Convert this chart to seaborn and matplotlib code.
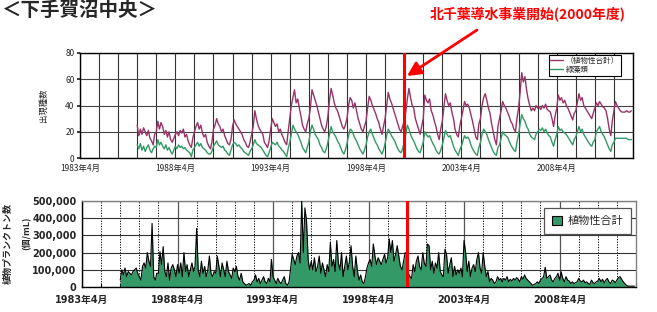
import numpy as np
import pandas as pd
import matplotlib
matplotlib.use('Agg')
import matplotlib.pyplot as plt
import matplotlib.dates as mdates
from matplotlib.patches import Patch
from matplotlib.lines import Line2D
import seaborn as sns

# ---------------- data ----------------
# Top chart: number of species, monthly, 1986/4 .. 2012/3 (Apr..Mar per row)
total_species = [
    25, 17, 22, 18, 23, 20, 17, 21, 15, 13, 10, 18,   # 1986
    20, 28, 22, 27, 24, 18, 21, 16, 20, 14, 12, 15,   # 1987
    18, 20, 17, 21, 19, 22, 16, 18, 13, 10, 8, 15,    # 1988
    20, 24, 27, 22, 25, 19, 16, 18, 12, 9, 7, 12,     # 1989
    22, 25, 30, 26, 24, 20, 22, 17, 14, 11, 10, 14,   # 1990
    24, 29, 26, 24, 22, 20, 18, 14, 12, 9, 8, 12,     # 1991
    18, 24, 36, 30, 25, 22, 20, 18, 12, 10, 8, 13,    # 1992
    22, 30, 27, 24, 26, 20, 22, 18, 15, 12, 10, 20,   # 1993
    30, 40, 46, 52, 42, 45, 38, 32, 25, 22, 20, 26,   # 1994
    30, 38, 52, 48, 44, 40, 35, 30, 25, 22, 20, 24,   # 1995
    32, 44, 53, 48, 42, 38, 36, 32, 28, 24, 22, 25,   # 1996
    30, 40, 46, 44, 38, 42, 36, 30, 26, 22, 20, 24,   # 1997
    28, 38, 47, 44, 40, 37, 34, 30, 27, 22, 18, 24,   # 1998
    30, 40, 50, 45, 42, 38, 34, 30, 26, 22, 20, 24,   # 1999
    28, 35, 45, 53, 46, 40, 38, 30, 26, 22, 18, 24,   # 2000
    30, 48, 44, 42, 45, 36, 33, 28, 24, 18, 14, 22,   # 2001
    28, 38, 49, 44, 40, 42, 35, 30, 22, 18, 16, 24,   # 2002
    30, 36, 43, 40, 41, 38, 33, 28, 22, 16, 14, 26,   # 2003
    30, 40, 46, 49, 44, 38, 34, 26, 20, 14, 10, 24,   # 2004
    30, 36, 43, 40, 38, 35, 32, 28, 26, 22, 20, 30,   # 2005
    38, 50, 65, 58, 62, 52, 45, 40, 36, 38, 36, 40,   # 2006
    38, 39, 37, 40, 38, 41, 37, 36, 35, 30, 24, 32,   # 2007
    38, 48, 44, 46, 42, 44, 40, 38, 35, 32, 29, 34,   # 2008
    36, 42, 49, 44, 46, 40, 38, 36, 34, 32, 30, 34,   # 2009
    38, 42, 40, 43, 41, 39, 38, 36, 30, 22, 17, 28,   # 2010
    36, 43, 40, 38, 36, 35, 35, 35, 36, 35, 35, 36,   # 2011
]
green_species = [
    10, 7, 11, 6, 9, 5, 8, 10, 6, 4, 7, 9,            # 1986
    8, 14, 10, 12, 9, 7, 10, 6, 8, 5, 3, 6,           # 1987
    9, 7, 10, 8, 9, 7, 8, 6, 5, 4, 1, 6,              # 1988
    8, 10, 12, 9, 11, 8, 7, 6, 4, 3, 3, 5,            # 1989
    9, 11, 13, 10, 9, 8, 9, 6, 5, 3, 2, 6,            # 1990
    10, 12, 11, 9, 10, 8, 7, 5, 4, 3, 2, 5,           # 1991
    7, 10, 14, 11, 10, 9, 8, 6, 4, 2, 1, 4,           # 1992
    8, 12, 11, 10, 12, 9, 8, 6, 5, 3, 1, 7,           # 1993
    12, 18, 25, 22, 20, 18, 15, 12, 8, 6, 4, 8,       # 1994
    12, 20, 25, 22, 18, 16, 14, 10, 8, 5, 4, 7,       # 1995
    12, 18, 24, 20, 18, 16, 13, 11, 8, 5, 3, 6,       # 1996
    11, 17, 22, 21, 18, 15, 13, 10, 7, 5, 3, 6,       # 1997
    10, 16, 20, 22, 18, 15, 12, 10, 7, 5, 3, 6,       # 1998
    11, 17, 22, 20, 17, 15, 13, 10, 7, 5, 4, 7,       # 1999
    12, 18, 25, 22, 18, 15, 13, 10, 7, 5, 4, 8,       # 2000
    12, 20, 18, 16, 17, 14, 11, 9, 6, 4, 3, 6,        # 2001
    10, 15, 21, 18, 16, 17, 13, 9, 6, 4, 2, 6,        # 2002
    9, 13, 17, 15, 16, 14, 10, 7, 5, 3, 2, 8,         # 2003
    12, 18, 22, 20, 18, 14, 11, 8, 5, 3, 2, 8,        # 2004
    10, 15, 20, 18, 17, 16, 13, 10, 8, 6, 5, 12,      # 2005
    18, 26, 33, 30, 28, 24, 22, 18, 16, 15, 14, 18,   # 2006
    20, 22, 21, 23, 20, 22, 19, 17, 16, 12, 9, 14,    # 2007
    18, 24, 21, 22, 20, 19, 18, 16, 14, 12, 10, 14,   # 2008
    16, 20, 24, 20, 22, 18, 16, 14, 12, 10, 9, 12,    # 2009
    14, 20, 22, 24, 20, 18, 16, 13, 10, 7, 5, 10,     # 2010
    12, 15, 15, 15, 15, 15, 15, 15, 15, 14, 14, 14,   # 2011
]
# Bottom chart: phytoplankton cells (thousand /mL), monthly, 1985/4 .. 2012/3
plankton_k = [
    40, 100, 70, 110, 60, 90, 80, 70, 90, 100, 110, 80,       # 1985
    60, 40, 120, 140, 110, 200, 150, 120, 370, 60, 40, 80,    # 1986
    80, 205, 130, 235, 90, 60, 140, 40, 110, 130, 100, 60,    # 1987
    130, 80, 140, 60, 200, 90, 130, 60, 100, 140, 90, 120,    # 1988
    340, 100, 60, 150, 80, 120, 60, 100, 180, 80, 60, 90,     # 1989
    80, 180, 120, 60, 140, 100, 60, 150, 90, 70, 50, 110,     # 1990
    90, 120, 60, 40, 80, 30, 20, 10, 15, 20, 10, 30,          # 1991
    40, 70, 30, 50, 20, 40, 60, 30, 20, 50, 30, 160,          # 1992
    60, 40, 20, 50, 30, 20, 40, 60, 20, 10, 30, 100,          # 1993
    190, 160, 130, 180, 200, 140, 500, 200, 460, 385, 160, 100,  # 1994
    150, 100, 170, 90, 120, 180, 80, 140, 100, 60, 130, 90,   # 1995
    260, 120, 160, 90, 270, 140, 100, 200, 60, 120, 180, 100, # 1996
    150, 240, 120, 60, 180, 90, 40, 70, 30, 20, 60, 110,      # 1997
    140, 160, 120, 250, 180, 130, 170, 150, 130, 160, 190, 140,  # 1998
    170, 280, 200, 270, 150, 190, 240, 180, 120, 100, 150, 200,  # 1999
    190, 80, 60, 50, 130, 90, 150, 180, 120, 100, 200, 140,   # 2000
    120, 250, 240, 100, 150, 80, 140, 110, 200, 90, 70, 60,   # 2001
    220, 190, 80, 130, 170, 60, 120, 70, 100, 80, 110, 60,    # 2002
    270, 200, 90, 150, 60, 110, 130, 90, 160, 200, 110, 80,   # 2003
    200, 120, 60, 90, 30, 50, 40, 20, 30, 60, 40, 50,         # 2004
    30, 50, 40, 60, 30, 45, 35, 50, 40, 55, 45, 30,           # 2005
    60, 45, 70, 50, 40, 30, 20, 10, 15, 20, 30, 20,           # 2006
    40, 50, 60, 115, 50, 60, 70, 40, 30, 50, 60, 80,          # 2007
    40, 88, 50, 30, 60, 40, 35, 20, 30, 20, 25, 30,           # 2008
    50, 35, 30, 40, 25, 30, 20, 15, 40, 25, 20, 30,           # 2009
    35, 50, 30, 45, 25, 40, 50, 30, 20, 40, 35, 25,           # 2010
    40, 55, 60, 45, 30, 20, 10, 5, 5, 5, 5, 5,                # 2011
]
tick_years = [1983, 1988, 1993, 1998, 2003, 2008]
tick_labels = [f"{y}年4月" for y in tick_years]
series_names = ["（植物性合計）", "緑藻類"]
bottom_name = "植物性合計"
event_label = "北千葉導水事業開始(2000年度)"
title = "＜下手賀沼中央＞"

# ---------------- figure ----------------
sns.set_theme(style='white')
plt.rcParams['font.family'] = ['Noto Sans CJK JP', 'DejaVu Sans']
plt.rcParams['axes.unicode_minus'] = False

W, H = 657, 312
fig = plt.figure(figsize=(W / 100, H / 100), dpi=100)
fig.patch.set_facecolor('white')

def box(l, t, r, b):
    return [l / W, 1 - b / H, (r - l) / W, (b - t) / H]

ax1 = fig.add_axes(box(80, 53, 633, 158))
ax2 = fig.add_axes(box(82, 201, 636, 287))

purple = '#993366'
green = '#339966'

x0 = pd.Timestamp('1983-04-01')
x1 = pd.Timestamp('2012-04-01')
event = pd.Timestamp('2000-04-01')
major_dates = [pd.Timestamp(f'{y}-04-01') for y in tick_years]
minor_dates = [pd.Timestamp(f'{y}-04-01') for y in range(1983, 2013)]

# ---- top chart ----
top_dates = pd.date_range('1986-04-01', periods=len(total_species), freq='MS')
df_top = pd.DataFrame({
    'date': list(top_dates) * 2,
    'value': total_species + green_species,
    'series': [series_names[0]] * len(total_species) + [series_names[1]] * len(green_species),
})
sns.lineplot(data=df_top, x='date', y='value', hue='series',
             palette={series_names[0]: purple, series_names[1]: green},
             linewidth=1.0, ax=ax1, legend=False, zorder=3)
ax1.axvline(event, color='#ff0000', lw=2.2, zorder=4)
ax1.set_xlim(x0, x1)
ax1.set_ylim(0, 80)
ax1.set_yticks([0, 20, 40, 60, 80])
ax1.set_xticks(major_dates)
ax1.set_xticks(minor_dates, minor=True)
ax1.set_xticklabels(tick_labels, fontsize=6)
ax1.tick_params(axis='x', which='both', length=0, pad=4)
ax1.tick_params(axis='y', labelsize=6, length=2, pad=2, left=True)
ax1.grid(axis='x', which='both', color='#333333', lw=0.8)
ax1.grid(axis='y', which='major', color='#444444', lw=0.8)
ax1.set_axisbelow(True)
for s in ax1.spines.values():
    s.set_color('black'); s.set_linewidth(1.0)
ax1.set_xlabel('')
ax1.set_ylabel('出現種数', fontsize=6)
ax1.yaxis.set_label_coords((48 - 80) / 553, 0.5)
h1 = [Line2D([], [], color=purple, lw=1.0), Line2D([], [], color=green, lw=1.0)]
leg1 = ax1.legend(h1, series_names, loc='upper right',
                  bbox_to_anchor=((621 - 80) / 553, (158 - 55) / 105),
                  fontsize=5.5, frameon=True, fancybox=False, framealpha=1,
                  edgecolor='black', handlelength=1.6, handletextpad=0.4,
                  borderpad=0.25, labelspacing=0.1, borderaxespad=0)
leg1.get_frame().set_linewidth(0.8)
leg1.set_zorder(6)

# ---- bottom chart ----
bot_dates = pd.date_range('1985-04-01', periods=len(plankton_k), freq='MS')
plankton = [v * 1000 for v in plankton_k]
df_bot = pd.DataFrame({'date': bot_dates, 'value': plankton})
ax2.fill_between(df_bot['date'], 0, df_bot['value'], color=green, lw=0, zorder=2)
sns.lineplot(data=df_bot, x='date', y='value', color='black', linewidth=0.8,
             ax=ax2, zorder=3)
ax2.axvline(event, color='#ff0000', lw=2.2, zorder=4)
ax2.set_xlim(x0, x1)
ax2.set_ylim(0, 500000)
ax2.set_yticks([0, 100000, 200000, 300000, 400000, 500000])
ax2.set_yticklabels([f"{v:,}" for v in [0, 100000, 200000, 300000, 400000, 500000]],
                    fontsize=7, fontweight='bold', family=['DejaVu Sans', 'Noto Sans CJK JP'])
ax2.set_xticks(major_dates)
ax2.set_xticks(minor_dates, minor=True)
ax2.set_xticklabels(tick_labels, fontsize=7, fontweight='bold',
                    family=['DejaVu Sans', 'Noto Sans CJK JP'])
ax2.tick_params(axis='x', which='both', direction='in', length=3, pad=6, bottom=True,
                color='black', width=0.8)
ax2.tick_params(axis='y', length=0, pad=4)
ax2.grid(axis='y', which='major', color='#333333', lw=0.8)
ax2.grid(axis='x', which='major', color='#555555', lw=0.9)
ax2.grid(axis='x', which='minor', color='black', lw=0.7, linestyle=(0, (1.2, 1.5)))
ax2.set_axisbelow(True)
for k, s in ax2.spines.items():
    s.set_linewidth(1.0)
    s.set_color('black' if k in ('left', 'bottom') else '#808080')
ax2.set_xlabel('')
ax2.set_ylabel('')
h2 = [Patch(facecolor=green, edgecolor='black', lw=0.8)]
leg2 = ax2.legend(h2, [bottom_name], loc='upper right',
                  bbox_to_anchor=((631 - 82) / 554, (287 - 208) / 86),
                  fontsize=8, frameon=True, fancybox=False, framealpha=1,
                  edgecolor='#555555', handlelength=0.9, handleheight=0.9,
                  handletextpad=0.5, borderpad=0.7, borderaxespad=0)
leg2.get_frame().set_linewidth(0.9)
leg2.set_zorder(6)

fig.text(8 / W, 1 - 244 / H, '植物プランクトン数', rotation=90, ha='center', va='center',
         fontsize=6.5, fontweight='bold')
fig.text(27 / W, 1 - 233 / H, '(個/mL)', rotation=90, ha='center', va='center',
         fontsize=6.5, fontweight='bold')

# ---- title and annotation ----
fig.text(1 / W, 1 - 1 / H, title, ha='left', va='top', fontsize=14, fontweight='bold')
fig.text(430 / W, 1 - 14 / H, event_label, ha='left', va='center', fontsize=10,
         fontweight='bold', color='#ff0000')
ax1.annotate('', xy=(407 / W, 1 - 76 / H), xycoords='figure fraction',
             xytext=(477 / W, 1 - 30 / H), textcoords='figure fraction',
             arrowprops=dict(arrowstyle='-|>,head_length=0.7,head_width=0.35',
                             color='#ff0000', lw=2.0, shrinkA=0, shrinkB=0),
             annotation_clip=False)

fig.savefig('out.png', dpi=100, facecolor='white')
